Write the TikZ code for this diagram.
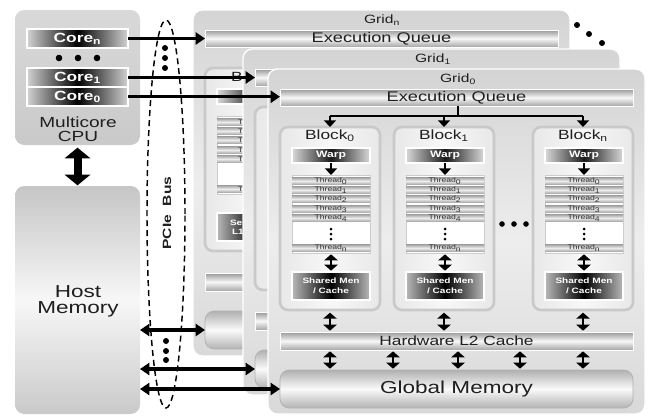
\documentclass[tikz,border=0pt]{standalone}
\usepackage{fontspec}
\setmainfont{Liberation Sans}[FakeStretch=1.3]
\usetikzlibrary{arrows.meta,shapes.geometric}
\newcommand\mkbox[7]{%
  \pgfmathsetmacro\myW{((#5)-(#3))*0.75}%
  \pgfmathsetmacro\myH{((#6)-(#4))*0.75}%
  \pgfmathsetmacro\myX{((#3)+(#5))/2}%
  \pgfmathsetmacro\myY{((#4)+(#6))/2}%
  \node[#2,minimum width=\myW pt,minimum height=\myH pt] (#1) at (\myX,\myY) {#7};}
\tikzset{
  every node/.style={inner sep=0pt,outer sep=0pt,text=black!88},
  fs/.style={font=\fontsize{#1}{#1}\selectfont},
  cpubox/.style={rounded corners=7pt,top color=gray!30,bottom color=gray!42},
  hostbox/.style={rounded corners=7pt,top color=gray!45,bottom color=gray!42,middle color=gray!6},
  corebar/.style={draw=white,line width=0.8pt,left color=gray!35,right color=gray!35,middle color=black,text=white,font=\bfseries\fontsize{10}{10}\selectfont},
  gridbox/.style={draw=white,line width=1pt,rounded corners=7pt,top color=gray!34,bottom color=gray!30,middle color=gray!14},
  metal/.style={draw=white,line width=0.6pt,top color=gray!80,bottom color=gray!70,middle color=gray!6},
  gmem/.style={draw=gray!60,line width=0.6pt,rounded corners=7pt,top color=gray!62,bottom color=gray!60,middle color=gray!4},
  blockbox/.style={draw=gray!42,line width=2pt,rounded corners=6pt,left color=gray!18,right color=gray!18,middle color=gray!6},
  warpbar/.style={draw=white,line width=0.8pt,left color=gray!30,right color=gray!30,middle color=black!90,text=white,font=\bfseries\fontsize{7}{7}\selectfont},
  threadbox/.style={fill=white,draw=gray!40,line width=0.4pt},
  threadrow/.style={top color=gray!75,bottom color=gray!75,middle color=gray!15,font=\fontsize{5}{5}\selectfont,text=black!80},
  shmem/.style={draw=white,line width=0.8pt,left color=gray!55,right color=gray!55,middle color=black,text=white,align=center,font=\bfseries\fontsize{5.8}{7.5}\selectfont},
  carrow/.style={line width=2.6pt,-{Triangle[length=7pt,width=9pt]}},
  harrow/.style={line width=2.6pt,{Triangle[length=7pt,width=9pt]}-{Triangle[length=7pt,width=9pt]}},
  bigarrow/.style={line width=6pt,{Triangle[length=8pt,width=19pt]}-{Triangle[length=8pt,width=19pt]}},
  tarrow/.style={line width=1.5pt,-{Triangle[length=5pt,width=9pt]}},
  darrow/.style={line width=2pt,{Triangle[length=4.5pt,width=10pt]}-{Triangle[length=4.5pt,width=10pt]}},
}
\begin{document}
\begin{tikzpicture}[x=0.75pt,y=-0.75pt]
\useasboundingbox (0,0) rectangle (652,415);
% ---------------- CPU ----------------
\mkbox{cpu}{cpubox}{15}{10}{140}{145}{}
\mkbox{coren}{corebar}{27}{29}{128}{48}{Core\textsubscript{n}}
\mkbox{core1}{corebar}{27}{68}{128}{87}{Core\textsubscript{1}}
\mkbox{core0}{corebar}{27}{87.5}{128}{106}{Core\textsubscript{0}}
\foreach \xx in {59,78,97}{\fill (\xx,58) circle (3.3);}
\node[align=center,font=\fontsize{11}{10.5}\selectfont] (cpulbl) at (78,129) {Multicore\\CPU};
% ---------------- Host memory ----------------
\mkbox{host}{hostbox}{15}{186}{140}{414}{}
\node[align=center,font=\fontsize{13}{12}\selectfont] (hostlbl) at (78,301) {Host\\Memory};
% ---------------- PCIe bus ----------------
\node[draw,dashed,dash pattern=on 4.5pt off 3pt,line width=1.1pt,ellipse,minimum width=28.5pt,minimum height=291pt] (pcie) at (166,214) {};
\node[rotate=90,font=\bfseries\fontsize{9}{9}\selectfont] (pcielbl) at (167,213) {PCIe\ \ Bus};
\foreach \yy in {48,58,68}{\fill (165,\yy) circle (3);}
\foreach \yy in {341,351,360}{\fill (166,\yy) circle (3);}
% ---------------- Grid n (back) ----------------
\mkbox{gn}{gridbox}{193}{10}{570}{356}{}
\node[fs=9] (gn-t) at (382,20) {Grid\textsubscript{n}};
\mkbox{gn-eq}{metal,fs=10.5}{205}{30}{558}{47}{Execution Queue}
\mkbox{gn-b}{blockbox}{205}{68}{305}{251}{}
\node[fs=10,anchor=west] (gn-bt) at (231,77) {B};
\mkbox{gn-w}{warpbar}{217}{89}{295}{104}{}
\mkbox{gn-th}{threadbox}{217}{116}{295}{194}{}
\foreach \yy/\k in {122/0,131/1,140/2,150/3,159/4,189/n}{
  \mkbox{gn-r\k}{threadrow}{217}{\yy-3.8}{295}{\yy+3.8}{}
  \node[fs=5,anchor=west,text=black!80] (gn-rt\k) at (238,\yy) {T};}
\mkbox{gn-sm}{shmem}{217}{213}{295}{241}{}
\node[anchor=west,text=white,font=\bfseries\fontsize{5.8}{6}\selectfont] (gn-s1) at (230,223) {Se};
\node[anchor=west,text=white,font=\bfseries\fontsize{5.8}{6}\selectfont] (gn-s2) at (232,232) {L1};
\mkbox{gn-l2}{metal}{205}{273}{558}{291}{}
\mkbox{gn-gm}{gmem}{205}{311}{558}{349}{}
\foreach \xx/\yy in {577/25,589/34,602/43}{\fill (\xx,\yy) circle (3);}
% ---------------- Grid 1 (middle) ----------------
\mkbox{g1}{gridbox}{243}{49}{620}{395}{}
\node[fs=9] (g1-t) at (433,59) {Grid\textsubscript{1}};
\mkbox{g1-eq}{metal}{255}{69}{608}{86}{}
\mkbox{g1-b}{blockbox}{255}{107}{355}{290}{}
\mkbox{g1-l2}{metal}{255}{312}{608}{330}{}
\mkbox{g1-gm}{gmem}{255}{350}{608}{388}{}
% ---------------- Grid 0 (front) ----------------
\mkbox{g0}{gridbox}{268}{69}{645}{414}{}
\node[fs=9] (g0-t) at (458,79) {Grid\textsubscript{0}};
\mkbox{g0-eq}{metal,fs=10.5}{280}{89}{633}{106}{Execution Queue}
\foreach \L/\nm/\s in {280/b0/0,394/b1/1,533/bn/n}{
  \mkbox{\nm}{blockbox}{\L}{127}{\L+100}{310}{}
  \node[fs=10] (\nm-t) at (\L+50,136) {Block\textsubscript{\s}};
  \mkbox{\nm-w}{warpbar}{\L+12}{148}{\L+90}{163}{Warp}
  \mkbox{\nm-th}{threadbox}{\L+12}{175}{\L+90}{253}{}
  \foreach \yy/\k in {181/0,190/1,199/2,209/3,218/4,248/n}{
    \mkbox{\nm-r\k}{threadrow}{\L+12}{\yy-3.8}{\L+90}{\yy+3.8}{Thread\textsubscript{\k}}}
  \foreach \yy in {229,234,239}{\fill (\L+51,\yy) circle (1.5);}
  \mkbox{\nm-sm}{shmem}{\L+12}{272}{\L+90}{300}{Shared Men\\/ Cache}
  \draw[tarrow] (\nm-w) -- (\nm-th);
  \draw[darrow,shorten <=1pt,shorten >=1pt] (\nm-th) -- (\nm-sm);
}
\foreach \xx in {502,514,526}{\fill (\xx,224) circle (2.8);}
\coordinate (jn) at (458,116);
\draw[line width=1.5pt] (g0-eq.south -| jn) -- (jn);
\draw[line width=1.5pt] (b0.north |- jn) -- (bn.north |- jn);
\foreach \nm in {b0,b1,bn}{\draw[tarrow] (\nm.north |- jn) -- (\nm.north);}
\mkbox{g0-l2}{metal,fs=10}{280}{332}{633}{350}{Hardware L2 Cache}
\mkbox{g0-gm}{gmem,fs=13}{280}{370}{633}{408}{Global Memory}
\foreach \nm in {b0,b1,bn}{\draw[darrow,shorten <=2pt,shorten >=1pt] (\nm.south) -- (\nm.south |- g0-l2.north);}
\foreach \xx [count=\i] in {330,393,458,520,583}{
  \coordinate (lx\i) at (\xx,360);
  \draw[darrow,shorten <=1pt,shorten >=1pt] (g0-l2.south -| lx\i) -- (g0-gm.north -| lx\i);}
% ---------------- connectors CPU / host to grids ----------------
\draw[carrow] (coren.east) -- (coren.east -| gn-eq.west);
\draw[carrow] (core1.east) -- (core1.east -| g1-eq.west);
\draw[carrow] (core0.east) -- (core0.east -| g0-eq.west);
\draw[bigarrow,shorten <=2pt,shorten >=0.5pt] (cpu.south) -- (host.north);
\draw[harrow] (host.east |- gn-gm.west) -- (gn-gm.west);
\draw[harrow] (host.east |- g1-gm.west) -- (g1-gm.west);
\draw[harrow] (host.east |- g0-gm.west) -- (g0-gm.west);
\end{tikzpicture}
\end{document}
